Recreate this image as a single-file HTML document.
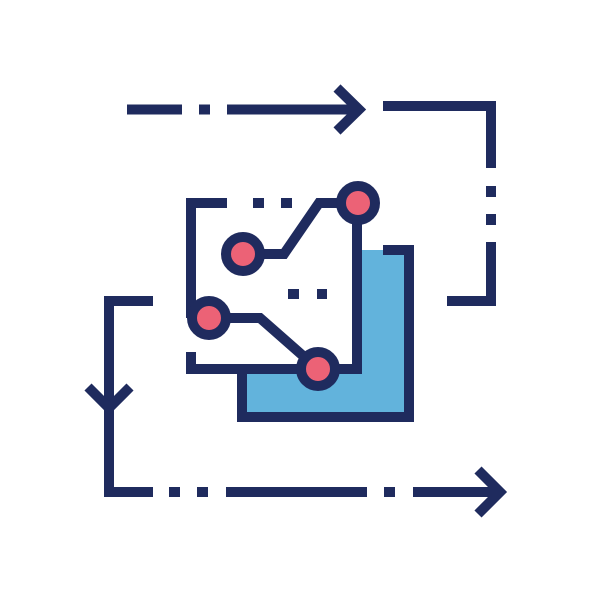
<!DOCTYPE html>
<html><head><meta charset="utf-8"><style>html,body{margin:0;padding:0;background:#fff}</style></head>
<body>
<svg width="602" height="602" viewBox="0 0 602 602" xmlns="http://www.w3.org/2000/svg">
<rect width="602" height="602" fill="#fff"/>
<g fill="none" stroke="#1f2b5e" stroke-width="10" stroke-linecap="butt" stroke-linejoin="miter">
  <!-- top arrow line -->
  <path d="M127 109.5H182M199 109.5H210M227 109.5H361"/>
  <path d="M337 88L359 109.5L337 131"/>
  <path d="M383 106H491V168M491 186V197M491 214V225M491 242V301H447"/>
  <!-- left/bottom -->
  <path d="M153 301H109V492H153M169 492H180M197 492H208M226 492H367M384 492H395M413 492H502"/>
  <path d="M88 387L109 408L130 387"/>
  <path d="M478 470L500 492L478 514"/>
  <!-- blue square -->
  <rect x="247" y="250" width="157" height="162" fill="#62b3dc" stroke="none"/>
  <path d="M383 250H409V417H242V370"/>
  <!-- white box -->
  <rect x="196" y="208" width="156" height="156" fill="#fff" stroke="none"/>
  <path d="M227 203H191V318M191 352V369H357V203"/>
  <path d="M253 203H264M281 203H292"/>
  <path d="M288 294H299M317 294H327"/>
  <path d="M243 254H284L319 203H358"/>
  <path d="M209 318H260L318 369"/>
  <g fill="#ec6276">
    <circle cx="358" cy="203" r="17"/>
    <circle cx="243" cy="254" r="17"/>
    <circle cx="209" cy="318" r="17"/>
    <circle cx="318" cy="369" r="17"/>
  </g>
</g>
</svg>
</body></html>
